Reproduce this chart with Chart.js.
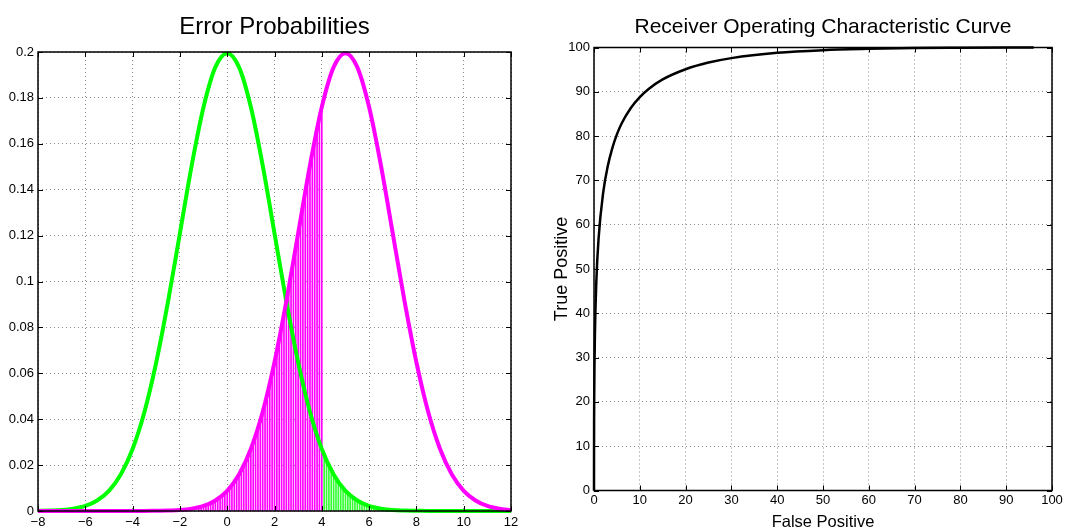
<!DOCTYPE html>
<html>
<head>
<meta charset="utf-8">
<title>Error Probabilities / ROC</title>
<script src="https://cdn.jsdelivr.net/npm/chart.js@4/dist/chart.umd.min.js"></script>
<style>
  body { margin: 0; background: #fff; }
  #wrap { position: relative; width: 1077px; height: 531px; }
  #errChart { position: absolute; left: 0; top: 0; }
  #rocChart { position: absolute; left: 540px; top: 0; }
</style>
</head>
<body>
<div id="wrap">
  <canvas id="errChart" width="540" height="531"></canvas>
  <canvas id="rocChart" width="537" height="531"></canvas>
</div>
<script>
"use strict"

// ---- left panel: the two densities ----
var densX = [-8, -7.5, -7, -6.5, -6, -5.5, -5, -4.5, -4, -3.5, -3, -2.5, -2, -1.5, -1, -0.5,
  0, 0.5, 1, 1.5, 2, 2.5, 3, 3.5, 4, 4.5, 5, 5.5, 6, 6.5, 7, 7.5, 8, 8.5, 9, 9.5, 10, 10.5, 11, 11.5, 12];
var noiseY = [0.0001, 0.0002, 0.0004, 0.0010, 0.0022, 0.0046, 0.0088, 0.0159, 0.0270, 0.0431, 0.0648, 0.0913, 0.1210, 0.1506, 0.1760, 0.1934,
  0.1995, 0.1934, 0.1760, 0.1506, 0.1210, 0.0913, 0.0648, 0.0431, 0.0270, 0.0159, 0.0088, 0.0046, 0.0022, 0.0010, 0.0004, 0.0002, 0.0001, 0, 0, 0, 0, 0, 0, 0, 0];
var signalY = [0, 0, 0, 0, 0, 0, 0, 0, 0, 0, 0.0001, 0.0002, 0.0004, 0.0010, 0.0022, 0.0046,
  0.0088, 0.0159, 0.0270, 0.0431, 0.0648, 0.0913, 0.1210, 0.1506, 0.1760, 0.1934, 0.1995, 0.1934, 0.1760, 0.1506, 0.1210, 0.0913, 0.0648, 0.0431, 0.0270, 0.0159, 0.0088, 0.0046, 0.0022, 0.0010, 0.0004];

// hatching under the curves (misses left of the threshold, false alarms right of it)
var missX = [-1.2, -1.1, -1.0, -0.9, -0.8, -0.7, -0.6, -0.5, -0.4, -0.3, -0.2, -0.1, 0.0, 0.1, 0.2, 0.3, 0.4, 0.5, 0.6, 0.7, 0.8, 0.9,
  1.0, 1.1, 1.2, 1.3, 1.4, 1.5, 1.6, 1.7, 1.8, 1.9, 2.0, 2.1, 2.2, 2.3, 2.4, 2.5, 2.6, 2.7, 2.8, 2.9, 3.0, 3.1, 3.2, 3.3, 3.4, 3.5, 3.6, 3.7, 3.8, 3.9, 4.0];
var missY = [0.0016, 0.0019, 0.0022, 0.0026, 0.0030, 0.0034, 0.0040, 0.0046, 0.0052, 0.0060, 0.0068, 0.0077, 0.0088, 0.0099, 0.0112, 0.0126, 0.0142, 0.0159, 0.0177, 0.0198, 0.0220, 0.0244,
  0.0270, 0.0298, 0.0328, 0.0360, 0.0395, 0.0431, 0.0470, 0.0511, 0.0555, 0.0600, 0.0648, 0.0697, 0.0749, 0.0802, 0.0857, 0.0913, 0.0971, 0.1030, 0.1089, 0.1149, 0.1210, 0.1270, 0.1330, 0.1390, 0.1449, 0.1506, 0.1561, 0.1615, 0.1666, 0.1715, 0.1760];
var faX = [4.1, 4.2, 4.3, 4.4, 4.5, 4.6, 4.7, 4.8, 4.9, 5.0, 5.1, 5.2, 5.3, 5.4, 5.5, 5.6, 5.7, 5.8, 5.9, 6.0, 6.1, 6.2, 6.3, 6.4, 6.5];
var faY = [0.0244, 0.0220, 0.0198, 0.0177, 0.0159, 0.0142, 0.0126, 0.0112, 0.0099, 0.0088, 0.0077, 0.0068, 0.0060, 0.0052, 0.0046, 0.0040, 0.0034, 0.0030, 0.0026, 0.0022, 0.0019, 0.0016, 0.0014, 0.0012, 0.0010];

var errXTicks = [-8, -6, -4, -2, 0, 2, 4, 6, 8, 10, 12];
var errXLabels = ['\u22128', '\u22126', '\u22124', '\u22122', '0', '2', '4', '6', '8', '10', '12'];
var errYTicks = [0, 0.02, 0.04, 0.06, 0.08, 0.1, 0.12, 0.14, 0.16, 0.18, 0.2];
var errYLabels = ['0', '0.02', '0.04', '0.06', '0.08', '0.1', '0.12', '0.14', '0.16', '0.18', '0.2'];

// ---- right panel: ROC ----
var rocFP = [0, 0.01, 0.02, 0.05, 0.1, 0.2, 0.5, 1, 2, 3, 4, 5, 6, 8, 10, 12, 15, 20, 25, 30, 40, 50, 60, 70, 80, 96];
var rocTP = [0, 10, 15, 21.5, 27.8, 35.3, 47, 56.9, 67.2, 73.2, 77.3, 80.4, 82.8, 86.3, 88.8, 90.7, 92.8, 95.1, 96.6, 97.6, 98.8, 99.4, 99.7, 99.9, 99.96, 100];
var rocTicks = [0, 10, 20, 30, 40, 50, 60, 70, 80, 90, 100];

var FONT = "'Liberation Sans', Arial, Helvetica, sans-serif";

function pts(xs, ys) {
  return xs.map(function (x, i) { return {x: x, y: ys[i]}; });
}

function fixTicks(values) {
  return function (scale) {
    scale.ticks = values.map(function (v) { return {value: v}; });
  };
}

// matlab style box with inward tick marks
var boxTicks = {
  id: 'boxTicks',
  afterDraw: function (chart) {
    var ctx = chart.ctx, a = chart.chartArea, sx = chart.scales.x, sy = chart.scales.y;
    ctx.save();
    ctx.strokeStyle = '#000';
    ctx.lineWidth = 1;
    ctx.beginPath();
    sx.ticks.forEach(function (t) {
      var px = Math.round(sx.getPixelForValue(t.value)) + 0.5;
      ctx.moveTo(px, a.bottom); ctx.lineTo(px, a.bottom - 5);
      ctx.moveTo(px, a.top); ctx.lineTo(px, a.top + 5);
    });
    sy.ticks.forEach(function (t) {
      var py = Math.round(sy.getPixelForValue(t.value)) + 0.5;
      ctx.moveTo(a.left, py); ctx.lineTo(a.left + 5, py);
      ctx.moveTo(a.right, py); ctx.lineTo(a.right - 5, py);
    });
    ctx.stroke();
    ctx.lineWidth = 1.5;
    ctx.strokeRect(a.left, a.top, a.right - a.left, a.bottom - a.top);
    ctx.restore();
  }
};

var gridDots = {color: 'rgba(0,0,0,0.45)', lineWidth: 1, drawTicks: false, offset: false};
var borderDots = {display: false, dash: [1, 3]};

Chart.defaults.font.family = FONT;
Chart.defaults.color = '#000';

var ctxE = document.getElementById("errChart").getContext('2d');
var errChart = new Chart(ctxE, {
  type: 'line',
  data: {
    datasets: [{
      type: 'bar',
      label: 'miss',
      data: pts(missX, missY),
      backgroundColor: '#ff00ff',
      barThickness: 1,
      grouped: false,
      order: 3
    }, {
      type: 'bar',
      label: 'false alarm',
      data: pts(faX, faY),
      backgroundColor: '#33ff33',
      barThickness: 1,
      grouped: false,
      order: 3
    }, {
      label: 'noise',
      data: pts(densX, noiseY),
      borderColor: '#00ff00',
      borderWidth: 4,
      pointRadius: 0,
      cubicInterpolationMode: 'monotone',
      clip: 4,
      order: 2
    }, {
      label: 'signal',
      data: pts(densX, signalY),
      borderColor: '#ff00ff',
      borderWidth: 4,
      pointRadius: 0,
      cubicInterpolationMode: 'monotone',
      clip: 4,
      order: 1
    }]
  },
  options: {
    responsive: false,
    devicePixelRatio: 1,
    animation: false,
    layout: {padding: {left: 0, right: 29, top: 0, bottom: 0}},
    plugins: {
      legend: {display: false},
      tooltip: {enabled: false},
      title: {
        display: true,
        text: 'Error Probabilities',
        fullSize: false,
        font: {size: 24, weight: 'normal', lineHeight: 1},
        padding: {top: 15, bottom: 13}
      }
    },
    scales: {
      x: {
        type: 'linear', min: -8, max: 12, offset: false,
        afterBuildTicks: fixTicks(errXTicks),
        afterFit: function (s) { s.height = 20; },
        ticks: {font: {size: 13}, padding: 4, maxRotation: 0,
          callback: function (v, i) { return errXLabels[i]; }},
        grid: gridDots,
        border: borderDots
      },
      y: {
        type: 'linear', min: 0, max: 0.2,
        afterBuildTicks: fixTicks(errYTicks),
        afterFit: function (s) { s.width = 38; },
        ticks: {font: {size: 13}, padding: 4,
          callback: function (v, i) { return errYLabels[i]; }},
        grid: gridDots,
        border: borderDots
      }
    }
  },
  plugins: [boxTicks]
});

var ctxR = document.getElementById("rocChart").getContext('2d');
var rocChart = new Chart(ctxR, {
  type: 'line',
  data: {
    datasets: [{
      label: 'ROC',
      data: pts(rocFP, rocTP),
      borderColor: '#000',
      borderWidth: 2.5,
      pointRadius: 0,
      cubicInterpolationMode: 'monotone',
      clip: 3
    }]
  },
  options: {
    responsive: false,
    devicePixelRatio: 1,
    animation: false,
    layout: {padding: {left: 0, right: 25, top: 0, bottom: 0}},
    plugins: {
      legend: {display: false},
      tooltip: {enabled: false},
      title: {
        display: true,
        text: 'Receiver Operating Characteristic Curve',
        fullSize: false,
        font: {size: 21, weight: 'normal', lineHeight: 1},
        padding: {top: 17, bottom: 9.5}
      }
    },
    scales: {
      x: {
        type: 'linear', min: 0, max: 100,
        afterBuildTicks: fixTicks(rocTicks),
        afterFit: function (s) { s.height = 40.5; },
        ticks: {font: {size: 13}, padding: 2, maxRotation: 0},
        title: {display: true, text: 'False Positive', font: {size: 16.5, lineHeight: 1}, padding: {top: 0, bottom: 0.5}},
        grid: gridDots,
        border: borderDots
      },
      y: {
        type: 'linear', min: 0, max: 100,
        afterBuildTicks: fixTicks(rocTicks),
        afterFit: function (s) { s.width = 54; },
        ticks: {font: {size: 13}, padding: 4},
        title: {display: true, text: 'True Positive', font: {size: 18, lineHeight: 1}, padding: {top: 13, bottom: 0}},
        grid: gridDots,
        border: borderDots
      }
    }
  },
  plugins: [boxTicks]
});
</script>
</body>
</html>
